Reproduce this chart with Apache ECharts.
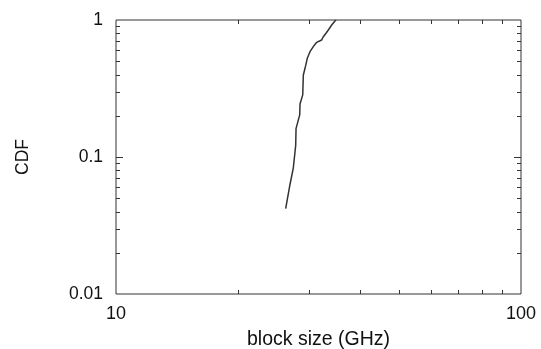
<!DOCTYPE html>
<html>
<head>
<meta charset="utf-8">
<script src="https://cdn.jsdelivr.net/npm/echarts@6/dist/echarts.min.js"></script>
<style>html,body{margin:0;padding:0;background:#fff;}#c{width:541px;height:349px;}</style>
</head>
<body>
<div id="c"></div>
<script>
// Data (block size in GHz vs CDF)
const blockSize = [26.24, 26.89, 27.40, 27.78, 27.83, 28.19, 28.42, 28.47, 28.91, 29.01, 29.29, 29.67, 30.13, 30.70, 31.30, 32.20, 32.50, 33.00, 33.44, 34.09, 34.73, 34.95];
const cdf       = [0.042, 0.063, 0.083, 0.122, 0.161, 0.186, 0.203, 0.244, 0.284, 0.397, 0.444, 0.525, 0.587, 0.639, 0.687, 0.715, 0.755, 0.800, 0.845, 0.919, 0.983, 1.0];
const xMinorTicks = [20, 30, 40, 50, 60, 70, 80, 90];
const yMinorTicks = [0.02, 0.03, 0.04, 0.05, 0.06, 0.07, 0.08, 0.09, 0.1, 0.2, 0.3, 0.4, 0.5, 0.6, 0.7, 0.8, 0.9];
const xRange = [10, 100];
const yRange = [0.01, 1];

const chart = echarts.init(document.getElementById('c'), null, {renderer: 'canvas'});
const font = 'Liberation Sans, Arial, sans-serif';
const tickColor = '#333';
const tickLen = 4;

const tickData = xMinorTicks.map(v => [v, yRange[0], 'x']).concat(yMinorTicks.map(v => [xRange[0], v, 'y']));

chart.setOption({
  animation: false,
  backgroundColor: '#fff',
  grid: {left: 116, right: 20, top: 20, bottom: 55, containLabel: false, outerBoundsMode: 'none',
         show: true, borderColor: '#333', borderWidth: 1, backgroundColor: 'transparent'},
  xAxis: {
    type: 'log', logBase: 10, min: xRange[0], max: xRange[1],
    name: 'block size (GHz)', nameLocation: 'middle', nameGap: 36,
    nameTextStyle: {fontFamily: font, fontSize: 19.5, color: '#111'},
    axisLine: {show: false}, axisTick: {show: false}, splitLine: {show: false},
    axisLabel: {fontFamily: font, fontSize: 18, color: '#111', margin: 11}
  },
  yAxis: {
    type: 'log', logBase: 10, min: yRange[0], max: yRange[1],
    name: 'CDF', nameLocation: 'middle', nameGap: 84,
    nameTextStyle: {fontFamily: font, fontSize: 17.5, color: '#111'},
    axisLine: {show: false}, axisTick: {show: false}, splitLine: {show: false},
    axisLabel: {fontFamily: font, fontSize: 17.5, color: '#111', margin: 13}
  },
  series: [
    {
      type: 'line', data: blockSize.map((x, i) => [x, cdf[i]]),
      showSymbol: false, symbol: 'none',
      lineStyle: {color: '#333', width: 1.5}, z: 3
    },
    {
      type: 'custom', data: tickData, silent: true, z: 2,
      renderItem: function (params, api) {
        const kind = tickData[params.dataIndex][2];
        const v = api.value(kind === 'x' ? 0 : 1);
        const lineStyle = {stroke: tickColor, lineWidth: 1};
        if (kind === 'x') {
          const b = api.coord([v, yRange[0]]);
          const t = api.coord([v, yRange[1]]);
          const x = Math.round(b[0]) + 0.5;
          return {type: 'group', children: [
            {type: 'line', shape: {x1: x, y1: b[1], x2: x, y2: b[1] - tickLen}, style: lineStyle},
            {type: 'line', shape: {x1: x, y1: t[1], x2: x, y2: t[1] + tickLen}, style: lineStyle}
          ]};
        } else {
          const l = api.coord([xRange[0], v]);
          const r = api.coord([xRange[1], v]);
          const y = Math.round(l[1]) + 0.5;
          const len = (v === 0.1) ? 7 : tickLen;
          return {type: 'group', children: [
            {type: 'line', shape: {x1: l[0], y1: y, x2: l[0] + len, y2: y}, style: lineStyle},
            {type: 'line', shape: {x1: r[0], y1: y, x2: r[0] - len, y2: y}, style: lineStyle}
          ]};
        }
      }
    }
  ]
});
</script>
</body>
</html>
